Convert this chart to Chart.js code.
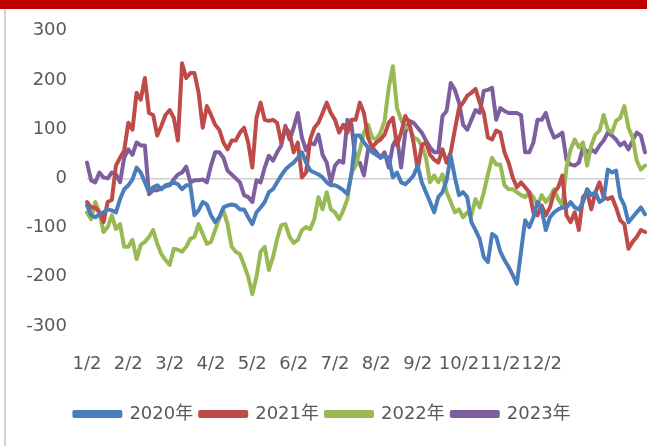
<!DOCTYPE html>
<html>
<head>
<meta charset="utf-8">
<script src="https://cdn.jsdelivr.net/npm/chart.js@4/dist/chart.umd.min.js"></script>
<style>
  html, body { margin: 0; padding: 0; background: #ffffff; }
  #wrap { width: 647px; height: 446px; }
</style>
</head>
<body>
<div id="wrap"><canvas id="c" width="647" height="446"></canvas></div>
<script>
// Tick labels (month starts) shown every 10 points on the category axis
const monthLabels = ['1/2','2/2','3/2','4/2','5/2','6/2','7/2','8/2','9/2','10/2','11/2','12/2'];
const seriesNames = ['2020年','2021年','2022年','2023年'];

const s2020 = [-55,-75,-79,-73,-69,-63,-65,-69,-42,-22,
-14,-2,22,12,-8,-28,-18,-14,-22,-14,
-12,-8,-12,-22,-14,-14,-75,-65,-48,-53,
-75,-89,-79,-59,-55,-53,-55,-63,-63,-79,
-93,-69,-59,-48,-28,-22,-8,6,18,26,
32,42,53,32,16,12,8,2,-8,-14,
-14,-18,-24,-32,10,87,87,73,63,53,
48,42,46,42,2,12,-8,-12,-4,6,
26,-8,-28,-48,-69,-38,-28,-4,46,2,
-34,-28,-38,-89,-105,-123,-160,-170,-113,-119,
-149,-166,-180,-196,-214,-149,-85,-99,-79,-48,
-63,-105,-79,-69,-63,-59,-59,-48,-59,-63,
-48,-22,-34,-28,-48,-42,18,12,16,-38,
-55,-89,-79,-69,-59,-73];

const s2021 = [-48,-59,-59,-69,-89,-48,-44,26,42,57,
113,99,174,160,204,133,129,87,107,129,
139,123,77,234,204,214,214,174,103,147,
129,109,99,73,59,77,77,93,103,73,
22,123,154,119,117,119,113,73,103,93,
53,73,2,12,79,103,113,133,154,133,
119,93,109,93,119,119,154,133,83,63,
73,79,89,113,123,67,93,127,113,73,
18,67,73,48,38,32,59,32,53,99,
143,154,168,174,182,154,133,83,79,97,
93,53,32,2,-18,-8,-18,-28,-69,-75,
-55,-75,-59,-28,-18,6,-75,-89,-69,-105,
-38,-28,-63,-28,-8,-38,-42,-38,-59,-85,
-93,-143,-129,-119,-105,-109];

const s2022 = [-69,-83,-48,-69,-109,-99,-75,-103,-93,-139,
-139,-125,-164,-135,-129,-119,-105,-133,-154,-166,
-176,-143,-145,-149,-139,-123,-119,-93,-113,-133,
-129,-105,-81,-65,-93,-139,-149,-154,-176,-200,
-235,-200,-149,-139,-186,-160,-123,-95,-93,-119,
-131,-125,-105,-99,-103,-83,-38,-63,-28,-63,
-69,-83,-65,-42,12,26,57,93,109,83,
79,93,117,184,228,143,119,103,103,83,
79,67,42,-8,6,-8,8,-28,-48,-69,
-63,-79,-69,-75,-42,-59,-28,8,42,28,
28,-14,-22,-22,-28,-34,-38,-28,-38,-55,
-34,-48,-38,-22,-42,-55,22,59,79,63,
73,26,67,89,97,129,99,93,117,123,
147,103,83,36,18,26];

const s2023 = [32,-4,-8,12,2,0,12,8,-8,42,
59,48,73,67,67,-32,-24,-24,-20,-16,
-14,-2,8,12,24,-8,-4,-4,-2,-8,
26,53,53,42,16,8,0,-8,-34,-38,
-48,-4,-8,22,46,36,53,67,107,79,
103,133,83,57,73,69,89,48,32,-8,
26,36,32,119,109,32,32,6,59,63,
53,42,53,22,67,83,22,93,117,113,
103,93,77,63,53,53,127,137,194,180,
154,109,99,119,139,133,178,180,184,119,
143,137,133,133,133,129,53,53,73,119,
119,133,103,83,87,93,38,28,26,32,
63,53,59,53,67,77,93,87,79,67,
73,59,77,93,87,53];

const yTicks = [-300,-200,-100,0,100,200,300];

// Build the category labels: a month label every 10 points
const labels = s2020.map((_, i) => (i % 10 === 0 && monthLabels[i / 10]) ? monthLabels[i / 10] : '');

const colors = ['#4A7EBB', '#BE4B48', '#98B954', '#7D5FA0'];
const seriesData = [s2020, s2021, s2022, s2023];

const FONT = '"DejaVu Sans", "Noto Sans CJK SC", sans-serif';

const decor = {
  id: 'decor',
  beforeDraw(chart) {
    const ctx = chart.ctx;
    ctx.save();
    ctx.fillStyle = '#ffffff';
    ctx.fillRect(0, 0, chart.width, chart.height);
    ctx.fillStyle = '#C00000';
    ctx.fillRect(0, 0, chart.width, 9);
    ctx.fillStyle = '#D4D4D4';
    ctx.fillRect(4, 9, 2, chart.height - 9);
    ctx.restore();
  }
};

new Chart(document.getElementById('c'), {
  type: 'line',
  data: {
    labels: labels,
    datasets: seriesData.map((d, k) => ({
      label: seriesNames[k],
      data: d,
      borderColor: colors[k],
      backgroundColor: colors[k],
      borderWidth: 4,
      pointRadius: 0,
      tension: 0,
      borderJoinStyle: 'round',
      borderCapStyle: 'round'
    }))
  },
  options: {
    responsive: false,
    devicePixelRatio: 1,
    animation: false,
    layout: { padding: { top: 27, left: 0, right: 2, bottom: 13 } },
    plugins: {
      legend: {
        position: 'bottom',
        labels: {
          boxWidth: 46,
          boxHeight: 4,
          padding: 7,
          color: '#595959',
          font: { family: FONT, size: 18 }
        }
      },
      tooltip: { enabled: false }
    },
    scales: {
      x: {
        grid: { display: false, drawTicks: true, tickLength: 28 },
        border: { display: false },
        ticks: {
          autoSkip: false,
          maxRotation: 0,
          minRotation: 0,
          padding: 0,
          color: '#595959',
          font: { family: FONT, size: 18 }
        },
        afterFit(scale) { scale.height = 72; }
      },
      y: {
        min: -300,
        max: 300,
        afterBuildTicks(scale) { scale.ticks = yTicks.map(v => ({ value: v })); },
        grid: {
          drawTicks: false,
          lineWidth: 1.5,
          color: (c) => (c.tick && c.tick.value === 0) ? '#D0D0D0' : 'rgba(0,0,0,0)'
        },
        border: { display: false },
        ticks: {
          padding: 20,
          color: '#595959',
          font: { family: FONT, size: 18 }
        },
        afterFit(scale) { scale.width = 87; }
      }
    }
  },
  plugins: [decor]
});
</script>
</body>
</html>
